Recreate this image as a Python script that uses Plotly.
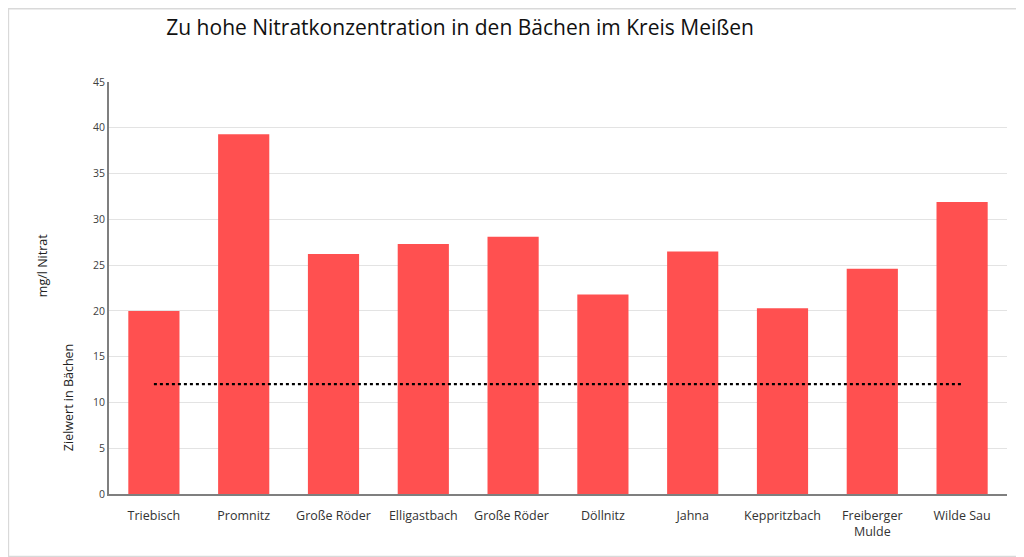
import plotly.graph_objects as go

# Data
baeche = ['Triebisch', 'Promnitz', 'Große Röder', 'Elligastbach', 'Große Röder ',
          'Döllnitz', 'Jahna', 'Keppritzbach', 'Freiberger<br>Mulde', 'Wilde Sau']
nitrat = [20.0, 39.3, 26.2, 27.3, 28.1, 21.8, 26.5, 20.3, 24.6, 31.9]
zielwert = [12] * len(baeche)

fig = go.Figure()

fig.add_trace(go.Bar(
    x=baeche,
    y=nitrat,
    marker=dict(color='#FF5050', line=dict(width=0)),
    showlegend=False,
))

fig.add_trace(go.Scatter(
    x=baeche,
    y=zielwert,
    mode='lines',
    line=dict(color='#000000', width=2.2, dash='dot'),
    showlegend=False,
))

# the page puts an 8px body margin around the figure, so size it to fit
fig.update_layout(
    width=1016,
    height=549,
    margin=dict(l=101, r=17, t=74, b=63),
    paper_bgcolor='white',
    plot_bgcolor='white',
    bargap=0.43,
    font=dict(family='Open Sans, sans-serif', color='#333333'),
    title=dict(
        text='Zu hohe Nitratkonzentration in den Bächen im Kreis Meißen',
        x=0.445, xanchor='center', y=0.965, yanchor='middle',
        font=dict(size=21, color='#111111'),
    ),
    xaxis=dict(
        showline=True, linecolor='#7f7f7f', linewidth=2,
        tickfont=dict(size=12.5, color='#333333'), ticks='', showgrid=False,
        ticklabelstandoff=9,
    ),
    yaxis=dict(
        range=[0, 45], dtick=5,
        showline=True, linecolor='#7f7f7f', linewidth=2,
        gridcolor='#e3e3e3', gridwidth=1,
        tickfont=dict(size=10.5, color='#404040'), ticks='', zeroline=False,
    ),
)

# Y-axis captions (two separate rotated texts)
fig.add_annotation(text='mg/l Nitrat', xref='paper', yref='paper',
                   x=-0.0746, y=0.553, xanchor='center', yanchor='middle',
                   textangle=-90, showarrow=False,
                   font=dict(size=12.5, color='#222222'))
fig.add_annotation(text='Zielwert in Bächen', xref='paper', yref='paper',
                   x=-0.0457, y=0.235, xanchor='center', yanchor='middle',
                   textangle=-90, showarrow=False,
                   font=dict(size=12.5, color='#222222'))

# Frame around the whole chart
fig.add_shape(type='rect', xref='paper', yref='paper',
              x0=-0.112, x1=1.0156, y0=-0.1515, y1=1.178,
              line=dict(color='#d9d9d9', width=1.5))

fig.write_html('out.html')
